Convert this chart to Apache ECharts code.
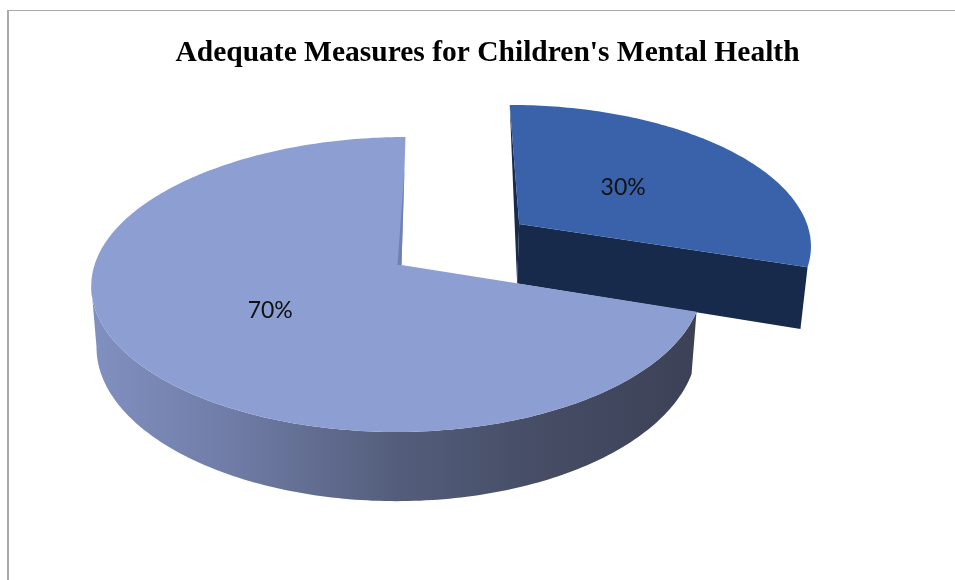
<!DOCTYPE html>
<html>
<head>
<meta charset="utf-8">
<style>html,body{margin:0;padding:0;background:#fff}#c{width:955px;height:580px}</style>
<script src="https://cdn.jsdelivr.net/npm/echarts@6/dist/echarts.min.js"></script>
</head>
<body>
<div id="c"></div>
<script>
var titleText = "Adequate Measures for Children's Mental Health";
var categories = ["Adequate", "Not adequate"];
var values = [30, 70];
var labels = ["30%", "70%"];

// Perspective projection of the pie disc
var view = {ax: 401.5, ay: 265, cx: 299, cy: 144.9, shear: -4.5, k: 0.1323, leftStretch: 8, depth: 60, converge: 0.017};
var explode = [0.5, 0];
var wallScale = [1.03, 1];
var labelRadius = [0.475, 0.51];

function project(u, v, z) {
  var w = 1 - view.k * v;
  var side = view.cx * u - (u < 0 ? view.leftStretch * u * u : 0);
  var dx = (side + view.shear * v) / w * (1 - view.converge * z);
  return [view.ax + dx, view.ay + (view.cy * v + view.depth * z) / w];
}
function polar(r, deg) {
  var t = deg * Math.PI / 180;
  return [r * Math.sin(t), -r * Math.cos(t)];
}
function pointOf(off, r, deg, z) {
  var p = polar(r, deg);
  return project(off[0] + p[0], off[1] + p[1], z);
}
function arc(off, a0, a1, z) {
  var pts = [], n = Math.ceil(Math.abs(a1 - a0));
  for (var i = 0; i <= n; i++) pts.push(pointOf(off, 1, a0 + (a1 - a0) * i / n, z));
  return pts;
}
function poly(points, fill) {
  return {type: 'polygon', shape: {points: points}, style: {fill: fill, stroke: null}};
}

var total = values.reduce(function (a, b) { return a + b; }, 0);
var seriesData = values.map(function (v, i) { return {name: categories[i], value: v}; });

var sideGradient = new echarts.graphic.LinearGradient(0, 0, 1, 0, [
  {offset: 0, color: '#8090c0'},
  {offset: 0.22, color: '#717da8'},
  {offset: 0.5, color: '#545e7c'},
  {offset: 0.75, color: '#454c64'},
  {offset: 1, color: '#3c4156'}
]);

function renderSlice(params, api) {
  var i = params.dataIndex, before = 0;
  for (var j = 0; j < i; j++) before += values[j];
  var a0 = before / total * 360;
  var a1 = (before + api.value(0)) / total * 360;
  var mid = (a0 + a1) / 2;
  var off = polar(explode[i], mid);
  var zLow = wallScale[i];
  var apex = pointOf(off, 0, 0, 0), apexLow = pointOf(off, 0, 0, zLow);
  var children = [];
  var top = [apex].concat(arc(off, a0, a1, 0));
  if (i === 0) {
    var c0 = pointOf(off, 1, a0, 0), e1 = pointOf(off, 1, a1, 0), e1Low = pointOf(off, 1, a1, zLow);
    children.push(poly([c0, apex, apexLow], '#182a4b'));
    children.push(poly([apex, e1, e1Low, apexLow], '#182a4b'));
    children.push(poly(top, '#3a62ab'));
  } else {
    var wallEnd = a0 + 154;
    children.push(poly(arc(off, a0, wallEnd, 0).concat(arc(off, a0, wallEnd, zLow).reverse()), sideGradient));
    children.push(poly(top, '#8d9fd2'));
    var edge = pointOf(off, 1, a1, 0);
    var s = [edge[0] + (apex[0] - edge[0]) * 0.25, edge[1] + (apex[1] - edge[1]) * 0.25];
    children.push(poly([s, apex, [apex[0] - 4, apex[1]]], '#7080b2'));
  }
  var lp = pointOf(off, labelRadius[i], mid, 0);
  children.push({
    type: 'text', x: lp[0], y: lp[1],
    style: {text: labels[i], fill: '#111', fontFamily: 'Lato', fontSize: 23, align: 'center', verticalAlign: 'middle'}
  });
  return {type: 'group', children: children};
}

var chart = echarts.init(document.getElementById('c'), null, {renderer: 'canvas'});
chart.setOption({
  animation: false,
  backgroundColor: '#fff',
  title: {
    text: titleText, left: 482.5, top: 33, textAlign: 'center',
    textStyle: {fontFamily: 'Liberation Serif', fontWeight: 'bold', fontSize: 29.5, color: '#000'}
  },
  graphic: [
    {type: 'rect', silent: true, shape: {x: 7, y: 10, width: 948, height: 1}, style: {fill: '#aaaaaa'}},
    {type: 'rect', silent: true, shape: {x: 7, y: 10, width: 2, height: 570}, style: {fill: '#aaaaaa'}}
  ],
  series: [{
    type: 'custom',
    coordinateSystem: 'none',
    silent: true,
    renderItem: renderSlice,
    data: seriesData,
    encode: {value: 0}
  }]
});
</script>
</body>
</html>
